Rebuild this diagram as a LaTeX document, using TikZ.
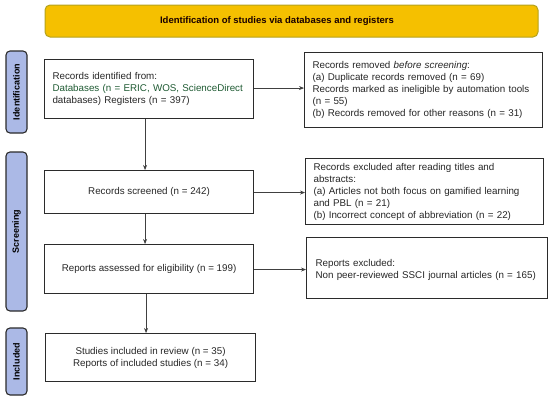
\documentclass[tikz,border=0pt]{standalone}
\usepackage{fontspec}
\setmainfont{Liberation Sans}
\usetikzlibrary{arrows.meta,calc}
\definecolor{hdrfill}{HTML}{F5C000}
\definecolor{hdrline}{HTML}{B4A21E}
\definecolor{sidefill}{HTML}{ABB9E6}
\definecolor{boxline}{HTML}{2B2B2B}
\definecolor{dbgreen}{HTML}{1E5A32}
\tikzset{
  box/.style={draw=boxline, line width=1.1pt, anchor=north west, inner ysep=0pt,
     font=\fontsize{9.8}{12}\selectfont, text=black!85},
  lbox/.style={box, align=left, inner xsep=8pt},
  cbox/.style={box, align=center},
  side/.style={draw=boxline, line width=1.1pt, fill=sidefill, rounded corners=4pt},
  sidetxt/.style={rotate=90, font=\bfseries\fontsize{9}{10}\selectfont},
  arr/.style={draw=black!75, line width=0.7pt, -{Stealth[length=5pt,width=4pt]}},
}
\begin{document}
\begin{tikzpicture}[x=1pt,y=-1pt]
\useasboundingbox (0,0) rectangle (550,397);
% header
\draw[draw=hdrline, line width=1pt, fill=hdrfill, rounded corners=5pt] (45,5) rectangle (538,37);
\node[font=\bfseries\fontsize{9.5}{11}\selectfont, text=black!90!red] (hdr) at (277,21.5) {Identification of studies via databases and registers};
% side bars
\draw[side] (6,51) rectangle (27,133);
\node[sidetxt] (sid) at (16.5,92) {Identification};
\draw[side] (6,152) rectangle (27,311);
\node[sidetxt] (ssc) at (16.5,231.5) {Screening};
\draw[side] (6,328) rectangle (27,395);
\node[sidetxt] (sin) at (16.5,361.5) {Included};
% left column
\node[lbox, text width=193pt, minimum height=59pt] (b1) at (44,59)
  {Records identified from:\\ \textcolor{dbgreen}{Databases (n = ERIC, WOS, ScienceDirect}\\ databases) Registers (n = 397)};
\node[cbox, minimum width=209pt, minimum height=43pt] (b2) at (44,170) {Records screened (n = 242)};
\node[cbox, minimum width=209pt, minimum height=49pt] (b3) at (44,244) {Reports assessed for eligibility (n = 199)};
\node[cbox, minimum width=210pt, minimum height=48pt] (b4) at (45,333) {Studies included in review (n = 35)\\ Reports of included studies (n = 34)};
% right column
\node[lbox, text width=222pt, minimum height=75pt] (r1) at (304,52)
  {Records removed \textit{before screening}:\\ (a) Duplicate records removed (n = 69)\\ Records marked as ineligible by automation tools\\ (n = 55)\\ (b) Records removed for other reasons (n = 31)};
\node[lbox, text width=222pt, minimum height=66pt] (r2) at (305,158)
  {Records excluded after reading titles and\\ abstracts:\\ (a) Articles not both focus on gamified learning\\ and PBL (n = 21)\\ (b) Incorrect concept of abbreviation (n = 22)};
\node[lbox, text width=223pt, minimum height=61pt, inner xsep=9pt] (r3) at (306,237)
  {\rule{0pt}{10pt}Reports excluded:\\ Non peer-reviewed SSCI journal articles (n = 165)};
% arrows
\draw[arr] ([xshift=-4pt]b1.south) -- ([xshift=-4pt]b1.south |- b2.north);
\draw[arr] ([xshift=-4pt]b2.south) -- ([xshift=-4pt]b2.south |- b3.north);
\draw[arr] ([xshift=-3pt]b3.south) -- ([xshift=-3pt]b3.south |- b4.north);
\draw[arr] ([yshift=1pt]b1.east) -- ([yshift=1pt]b1.east -| r1.west);
\draw[arr] ([yshift=-0.5pt]b2.east) -- ([yshift=-0.5pt]b2.east -| r2.west);
\draw[arr] ([yshift=-0.5pt]b3.east) -- ([yshift=-0.5pt]b3.east -| r3.west);
\end{tikzpicture}
\end{document}
